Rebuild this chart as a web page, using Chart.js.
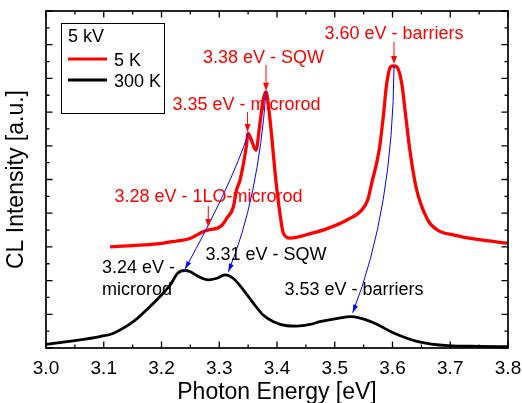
<!DOCTYPE html>
<html lang="en">
<head>
<meta charset="utf-8">
<title>CL spectra</title>
<script src="https://cdn.jsdelivr.net/npm/chart.js@4.4.1/dist/chart.umd.min.js"></script>
<style>
  html, body { margin: 0; padding: 0; background: #fff; }
  #wrap { width: 522px; height: 403px; }
</style>
</head>
<body>
<div id="wrap"><canvas id="grafica" width="522" height="403"></canvas></div>
<script>
// values (eV, arbitrary units)
const energia5K = [3.111, 3.15, 3.192, 3.22, 3.249, 3.272, 3.285, 3.296, 3.305, 3.313, 3.3245, 3.33, 3.336, 3.342, 3.347, 3.350, 3.355, 3.3636, 3.37, 3.376, 3.381, 3.3867, 3.3925, 3.398, 3.405, 3.411, 3.4225, 3.459, 3.488, 3.521, 3.547, 3.557, 3.564, 3.577, 3.584, 3.590, 3.597, 3.6014, 3.607, 3.616, 3.623, 3.630, 3.641, 3.661, 3.678, 3.707, 3.747, 3.80];
const intensidad5K = [3.00, 3.04, 3.09, 3.16, 3.25, 3.45, 3.52, 3.55, 3.65, 3.85, 4.19, 4.69, 4.98, 5.48, 6.0, 6.37, 6.2, 5.87, 6.6, 7.36, 7.6, 6.97, 5.97, 4.98, 4.0, 3.41, 3.26, 3.40, 3.55, 3.8, 4.1, 4.39, 4.89, 5.88, 6.86, 7.85, 8.35, 8.37, 8.35, 7.85, 6.86, 5.88, 4.75, 3.8, 3.5, 3.35, 3.22, 3.11];

const energia300K = [3.00, 3.05, 3.0935, 3.117, 3.151, 3.174, 3.197, 3.215, 3.228, 3.24, 3.249, 3.264, 3.281, 3.296, 3.31, 3.324, 3.342, 3.359, 3.376, 3.394, 3.417, 3.434, 3.457, 3.474, 3.505, 3.528, 3.563, 3.603, 3.644, 3.696, 3.75, 3.80];
const intensidad300K = [0.11, 0.22, 0.34, 0.44, 0.78, 1.13, 1.52, 1.87, 2.22, 2.30, 2.27, 2.12, 2.02, 2.07, 2.17, 2.07, 1.72, 1.33, 0.98, 0.78, 0.66, 0.65, 0.70, 0.78, 0.88, 0.93, 0.78, 0.44, 0.19, 0.07, 0.05, 0.04];

const etiquetasSerie = ['5 K', '300 K'];
const tituloLeyenda = '5 kV';
const tituloX = 'Photon Energy [eV]';
const tituloY = 'CL Intensity [a.u.]';

// peak labels: text, eV, baseline value, colour, align
const notas = [
  ['3.60 eV - barriers', 3.6026, 9.17, 'red', 'center'],
  ['3.38 eV - SQW', 3.3766, 8.46, 'red', 'center'],
  ['3.35 eV - microrod', 3.3472, 7.06, 'red', 'center'],
  ['3.28 eV - 1LO-microrod', 3.2814, 4.33, 'red', 'center'],
  ['3.24 eV -', 3.097, 2.23, 'black', 'left'],
  ['microrod', 3.097, 1.57, 'black', 'left'],
  ['3.31 eV - SQW', 3.381, 2.61, 'black', 'center'],
  ['3.53 eV - barriers', 3.5333, 1.57, 'black', 'center']
];
// red markers: eV, from, to
const flechasRojas = [
  [3.6026, 9.08, 8.43],
  [3.381, 8.40, 7.63],
  [3.349, 7.00, 6.41],
  [3.281, 4.21, 3.59]
];
// blue links 5 K peak -> 300 K peak: start, control, end
const flechasAzules = [
  [3.3503, 6.37, 3.3222, 4.887, 3.2407, 2.34],
  [3.381, 7.605, 3.3671, 4.39, 3.3157, 2.264],
  [3.6026, 8.368, 3.6009, 4.10, 3.5311, 1.047]
];

const FUENTE = '"Liberation Sans", Arial, sans-serif';

function punta(ctx, x, y, ang, largo, ancho) {
  ctx.beginPath();
  ctx.moveTo(x, y);
  ctx.lineTo(x - largo * Math.cos(ang) + ancho / 2 * Math.sin(ang), y - largo * Math.sin(ang) - ancho / 2 * Math.cos(ang));
  ctx.lineTo(x - largo * Math.cos(ang) - ancho / 2 * Math.sin(ang), y - largo * Math.sin(ang) + ancho / 2 * Math.cos(ang));
  ctx.closePath();
  ctx.fill();
}

const marcoPlugin = {
  id: 'marco',
  afterDatasetsDraw(chart) {
    const { ctx, chartArea: a, scales: { x, y } } = chart;
    ctx.save();

    // blue links
    ctx.strokeStyle = '#0000ff';
    ctx.fillStyle = '#0000ff';
    ctx.lineWidth = 1;
    flechasAzules.forEach(f => {
      const x0 = x.getPixelForValue(f[0]), y0 = y.getPixelForValue(f[1]);
      const cx = x.getPixelForValue(f[2]), cy = y.getPixelForValue(f[3]);
      const x1 = x.getPixelForValue(f[4]), y1 = y.getPixelForValue(f[5]);
      ctx.beginPath();
      ctx.moveTo(x0, y0);
      ctx.quadraticCurveTo(cx, cy, x1, y1);
      ctx.stroke();
      punta(ctx, x1, y1, Math.atan2(y1 - cy, x1 - cx), 8, 5);
    });

    // red markers
    ctx.strokeStyle = '#ff0000';
    ctx.fillStyle = '#ff0000';
    flechasRojas.forEach(f => {
      const px = x.getPixelForValue(f[0]);
      const y0 = y.getPixelForValue(f[1]), y1 = y.getPixelForValue(f[2]);
      ctx.beginPath();
      ctx.moveTo(px, y0);
      ctx.lineTo(px, y1 - 4);
      ctx.stroke();
      punta(ctx, px, y1, Math.PI / 2, 8, 6);
    });

    // labels
    ctx.font = '18px ' + FUENTE;
    ctx.textBaseline = 'alphabetic';
    notas.forEach(n => {
      ctx.fillStyle = n[3] === 'red' ? '#ff0000' : '#000000';
      ctx.textAlign = n[4];
      ctx.fillText(n[0], x.getPixelForValue(n[1]), y.getPixelForValue(n[2]));
    });

    // frame with inward ticks on all sides
    ctx.strokeStyle = '#000';
    ctx.lineWidth = 1.7;
    ctx.strokeRect(a.left, a.top, a.right - a.left, a.bottom - a.top);
    ctx.lineWidth = 1.3;
    ctx.beginPath();
    for (let i = 0; i <= Math.round((x.max - x.min) / 0.05); i++) {
      const px = x.getPixelForValue(x.min + i * 0.05);
      const len = i % 2 === 0 ? 6.5 : 3.5;
      ctx.moveTo(px, a.bottom); ctx.lineTo(px, a.bottom - len);
      ctx.moveTo(px, a.top); ctx.lineTo(px, a.top + len);
    }
    for (let i = 0; i <= Math.round((y.max - y.min) / 0.5); i++) {
      const py = y.getPixelForValue(y.min + i * 0.5);
      const len = i % 2 === 0 ? 6.5 : 3.5;
      ctx.moveTo(a.left, py); ctx.lineTo(a.left + len, py);
      ctx.moveTo(a.right, py); ctx.lineTo(a.right - len, py);
    }
    ctx.stroke();

    // legend box
    const lx = a.left + 15, ly = a.top + 12;
    ctx.lineWidth = 1;
    ctx.strokeRect(lx + 0.5, ly + 0.5, 103, 90);
    ctx.font = '18px ' + FUENTE;
    ctx.fillStyle = '#000';
    ctx.textAlign = 'left';
    ctx.fillText(tituloLeyenda, lx + 7, ly + 19);
    chart.data.datasets.forEach((ds, i) => {
      const yy = ly + 36 + i * 21;
      ctx.strokeStyle = ds.borderColor;
      ctx.lineWidth = 3;
      ctx.beginPath();
      ctx.moveTo(lx + 7, yy);
      ctx.lineTo(lx + 46, yy);
      ctx.stroke();
      ctx.fillStyle = '#000';
      ctx.fillText(ds.label, lx + 53, yy + 6.5);
    });

    ctx.restore();
  }
};

document.addEventListener('DOMContentLoaded', () => {
  const ctx = document.getElementById('grafica').getContext('2d');
  new Chart(ctx, {
    type: 'line',
    data: {
      datasets: [
        {
          label: etiquetasSerie[0],
          data: energia5K.map((e, i) => ({ x: e, y: intensidad5K[i] })),
          borderColor: '#ff0000',
          borderWidth: 3.3,
          pointRadius: 0,
          cubicInterpolationMode: 'monotone'
        },
        {
          label: etiquetasSerie[1],
          data: energia300K.map((e, i) => ({ x: e, y: intensidad300K[i] })),
          borderColor: '#000000',
          borderWidth: 2.8,
          pointRadius: 0,
          cubicInterpolationMode: 'monotone'
        }
      ]
    },
    options: {
      responsive: false,
      animation: false,
      events: [],
      layout: { padding: { top: 11, right: 14, left: 0, bottom: 0 } },
      plugins: { legend: { display: false }, tooltip: { enabled: false } },
      scales: {
        x: {
          type: 'linear',
          min: 3.0,
          max: 3.8,
          grid: { display: false },
          border: { display: false },
          ticks: {
            stepSize: 0.1,
            padding: 1,
            color: '#000',
            font: { family: FUENTE, size: 19 },
            callback: v => v.toFixed(1)
          },
          title: {
            display: true,
            text: tituloX,
            color: '#000',
            font: { family: FUENTE, size: 23 },
            padding: { top: 0, bottom: -3 }
          },
          afterFit: s => { s.height = 55; s.paddingLeft = 0; s.paddingRight = 0; }
        },
        y: {
          min: 0,
          max: 10,
          grid: { display: false },
          border: { display: false },
          ticks: { display: false },
          title: {
            display: true,
            text: tituloY,
            color: '#000',
            font: { family: FUENTE, size: 23 },
            padding: { top: 3.2, bottom: 0 }
          },
          afterFit: s => { s.width = 46; s.paddingTop = 0; s.paddingBottom = 0; }
        }
      }
    },
    plugins: [marcoPlugin]
  });
});
</script>
</body>
</html>
